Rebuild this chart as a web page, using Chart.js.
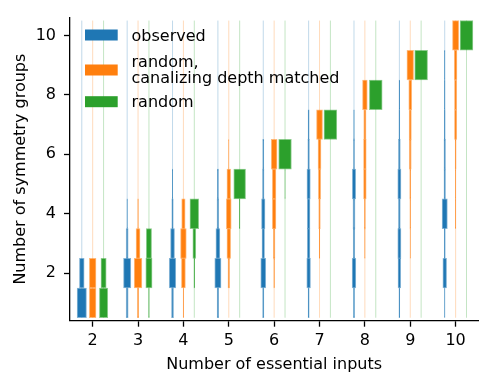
<!DOCTYPE html>
<html>
<head>
<meta charset="utf-8">
<script src="https://cdn.jsdelivr.net/npm/chart.js@4"></script>
<style>
  body { margin: 0; background: #ffffff; }
  #chart { display: block; }
</style>
</head>
<body>
<canvas id="chart" width="491" height="386"></canvas>
<script>
// Categorias del eje X (numero de entradas esenciales) y ticks del eje Y
const inputs = [2, 3, 4, 5, 6, 7, 8, 9, 10];
const yTicks = [2, 4, 6, 8, 10];

// Fraccion de funciones en cada numero de grupos de simetria (1, 2, 3, ...)
const observed = [
    [0.73, 0.37],
    [0.16, 0.57, 0.16, 0.04],
    [0.16, 0.51, 0.31, 0.12, 0.02],
    [0.12, 0.49, 0.31, 0.14, 0.09],
    [0.10, 0.39, 0.20, 0.27, 0.12, 0.09],
    [0.09, 0.29, 0.21, 0.21, 0.26, 0.13, 0.09],
    [0.09, 0.29, 0.13, 0.16, 0.26, 0.08, 0.05],
    [0.06, 0.21, 0.25, 0.15, 0.25, 0.15, 0.07, 0.05],
    [0.02, 0.29, 0.08, 0.41, 0.12, 0.12, 0.07, 0.05, 0.04],
];
const depthMatched = [
    [0.52, 0.52],
    [0.10, 0.60, 0.31, 0.05],
    [0.02, 0.31, 0.45, 0.27],
    [0, 0.13, 0.29, 0.38, 0.29, 0.02],
    [0, 0.06, 0.13, 0.28, 0.28, 0.45],
    [0, 0, 0.05, 0.13, 0.18, 0.23, 0.47],
    [0, 0, 0.04, 0.08, 0.21, 0.21, 0.18, 0.37],
    [0, 0, 0.02, 0.05, 0.08, 0.16, 0.18, 0.23, 0.52],
    [0, 0, 0, 0.03, 0.03, 0.08, 0.18, 0.18, 0.21, 0.49],
];
const randomFns = [
    [0.65, 0.41],
    [0.05, 0.49, 0.41],
    [0, 0.06, 0.23, 0.68],
    [0, 0, 0, 0.04, 0.92],
    [0, 0, 0, 0, 0.02, 0.99],
    [0, 0, 0, 0, 0, 0, 1.0],
    [0, 0, 0, 0, 0, 0, 0, 1.0],
    [0, 0, 0, 0, 0, 0, 0, 0, 1.0],
    [0, 0, 0, 0, 0, 0, 0, 0, 0, 1.0],
];

const seriesLabels = ["observed", "random,\ncanalizing depth matched", "random"];

const blueColor = "#1f77b4";
const orangeColor = "#ff7f0e";
const greenColor = "#2ca02c";
const fontFamily = "'DejaVu Sans', sans-serif";

const fullWidth = 0.282;  // ancho (en unidades del eje X) de una fraccion 1.0
const offsets = [-0.24, 0, 0.24];

// Rectangulos horizontales centrados en cada serie
function buildBars(values, offset, label, color, edge) {
    const data = [];
    values.forEach((levels, i) => {
        const center = inputs[i] + offset;
        levels.forEach((frac, j) => {
            if (frac > 0) {
                const w = frac * fullWidth;
                data.push({ y: j + 1, x: [center - w / 2, center + w / 2] });
            }
        });
    });
    return {
        type: "bar",
        label: label,
        data: data,
        backgroundColor: color,
        borderColor: edge,
        borderWidth: 1,
        borderSkipped: false,
        grouped: false,
        barPercentage: 1,
        categoryPercentage: 1,
        order: 0,
    };
}

// Lineas verticales tenues de cada serie
function buildGuides(offset, color) {
    const data = [];
    inputs.forEach((n) => {
        data.push({ x: n + offset, y: 0.5 });
        data.push({ x: n + offset, y: 10.5 });
        data.push({ x: null, y: null });
    });
    return {
        type: "line",
        data: data,
        borderColor: color,
        borderWidth: 1,
        pointRadius: 0,
        spanGaps: false,
        order: 1,
    };
}

// Leyenda dibujada a mano (una entrada tiene dos lineas)
const legendPlugin = {
    id: "customLegend",
    afterDraw(chart) {
        const ctx = chart.ctx;
        const rows = [
            { color: blueColor, box: 29.5, lines: [[seriesLabels[0], 40.7]] },
            { color: orangeColor, box: 64.5, lines: [["random,", 66.7], ["canalizing depth matched", 83.3]] },
            { color: greenColor, box: 96.2, lines: [[seriesLabels[2], 106.7]] },
        ];
        ctx.save();
        ctx.font = "16px " + fontFamily;
        ctx.textBaseline = "alphabetic";
        rows.forEach((row) => {
            ctx.fillStyle = row.color;
            ctx.fillRect(85, row.box, 32.7, 11);
            ctx.fillStyle = "#000";
            row.lines.forEach(([txt, y]) => ctx.fillText(txt, 131.5, y));
        });
        ctx.restore();
    },
};

function createChart() {
    const ctx = document.getElementById("chart");
    Chart.defaults.font.family = fontFamily;
    Chart.defaults.font.size = 16;
    Chart.defaults.color = "#000";

    new Chart(ctx, {
        data: {
            datasets: [
                buildGuides(offsets[0], "rgba(31, 119, 180, 0.28)"),
                buildGuides(offsets[1], "rgba(255, 127, 14, 0.28)"),
                buildGuides(offsets[2], "rgba(44, 160, 44, 0.28)"),
                buildBars(observed, offsets[0], seriesLabels[0], blueColor, "rgba(31, 119, 180, 0.55)"),
                buildBars(depthMatched, offsets[1], seriesLabels[1], orangeColor, "rgba(255, 127, 14, 0.55)"),
                buildBars(randomFns, offsets[2], seriesLabels[2], greenColor, "rgba(44, 160, 44, 0.55)"),
            ],
        },
        options: {
            indexAxis: "y",
            responsive: false,
            animation: false,
            layout: {
                padding: { top: 12.7, right: 12.7, left: 0, bottom: 0 },
            },
            scales: {
                x: {
                    type: "linear",
                    min: 1.5,
                    max: 10.5,
                    offset: false,
                    afterBuildTicks: (scale) => {
                        scale.ticks = inputs.map((v) => ({ value: v }));
                    },
                    afterFit: (scale) => {
                        scale.height = 65.3;
                    },
                    grid: {
                        display: true,
                        offset: false,
                        drawOnChartArea: false,
                        tickLength: 6,
                        tickWidth: 1.3,
                        tickColor: "#000",
                    },
                    border: { color: "#000", width: 1.3 },
                    ticks: { padding: 5, maxRotation: 0 },
                    title: {
                        display: true,
                        text: "Number of essential inputs",
                        padding: { top: 2, bottom: 12 },
                    },
                },
                y: {
                    type: "linear",
                    min: 0.4,
                    max: 10.6,
                    offset: false,
                    afterBuildTicks: (scale) => {
                        scale.ticks = yTicks.map((v) => ({ value: v }));
                    },
                    afterFit: (scale) => {
                        scale.width = 70;
                    },
                    grid: {
                        display: true,
                        offset: false,
                        drawOnChartArea: false,
                        tickLength: 6,
                        tickWidth: 1.3,
                        tickColor: "#000",
                    },
                    border: { color: "#000", width: 1.3 },
                    ticks: { padding: 8 },
                    title: {
                        display: true,
                        text: "Number of symmetry groups",
                        padding: { top: 11, bottom: 4 },
                    },
                },
            },
            plugins: {
                legend: { display: false },
                tooltip: { enabled: false },
            },
        },
        plugins: [legendPlugin],
    });
}

createChart();
</script>
</body>
</html>
